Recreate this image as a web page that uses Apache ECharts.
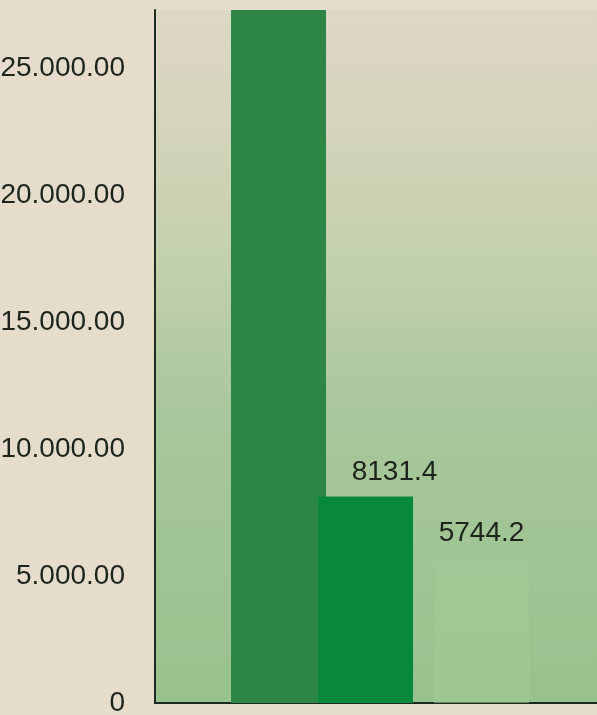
<!DOCTYPE html>
<html>
<head>
<meta charset="utf-8">
<script src="https://cdn.jsdelivr.net/npm/echarts@6/dist/echarts.min.js"></script>
<style>
    html, body { margin: 0; padding: 0; background: #e6dccb; }
    #main { width: 597px; height: 715px; }
</style>
</head>
<body>
<div id="main"></div>
<script>
// slots on a hidden category axis, only three of them carry a bar
var categories = ['s0', 's1', 's2', 'barra1', 's4', 's5', 'barra2', 's7', 's8', 's9', 'barra3', 's11', 's12', 's13', 's14'];
var values = [null, null, null, 27300, null, null, 8131.4, null, null, null, 5744.2, null, null, null, null];
var barLabels = [null, null, null, null, null, null, '8131.4', null, null, null, '5744.2', null, null, null, null];
var yTicks = [0, 5000, 10000, 15000, 20000, 25000];

var yMax = 27300; // la barra oscura se sale del grafico
var textColor = '#1c241c';
var font = "'Liberation Sans', Arial, sans-serif";
var barColors = { barra1: '#2e8646', barra2: '#08883a', barra3: 'rgba(164, 202, 152, 0.55)' };

function fmt(v) {
    if (v === 0) return '0';
    var s = Math.round(v).toString().replace(/\B(?=(\d{3})+(?!\d))/g, '.');
    return s + '.00';
}

var seriesData = [];
for (var i = 0; i < categories.length; i++) {
    var item = {
        value: values[i],
        itemStyle: { color: barColors[categories[i]] || '#000' },
        label: { show: !!barLabels[i], formatter: barLabels[i] || '' }
    };
    if (categories[i] == 'barra2') {
        item.label.offset = [29, 0];
    }
    seriesData.push(item);
}

var option = {
    animation: false,
    grid: [
        {
            left: 155, width: 450, top: 10, bottom: 12,
            outerBoundsMode: 'none',
            containLabel: false,
            show: true,
            borderWidth: 0,
            backgroundColor: {
                type: 'linear', x: 0, y: 0, x2: 0, y2: 1,
                colorStops: [
                    { offset: 0, color: '#ddd8c5' },
                    { offset: 0.15, color: '#d6d4bd' },
                    { offset: 0.37, color: '#c2d0ab' },
                    { offset: 0.58, color: '#a9c79c' },
                    { offset: 1, color: '#98c18d' }
                ]
            }
        },
        {
            left: 177, width: 435, top: 10, bottom: 12,
            outerBoundsMode: 'none',
            containLabel: false
        }
    ],
    xAxis: [
        {
            gridIndex: 0, type: 'value', min: 0, max: 1,
            axisLine: { show: true, lineStyle: { color: '#1d2a20', width: 2 } },
            axisTick: { show: false },
            axisLabel: { show: false },
            splitLine: { show: false }
        },
        { gridIndex: 1, type: 'category', data: categories, show: false }
    ],
    yAxis: [
        {
            gridIndex: 0, type: 'value', min: 0, max: yMax, interval: 5000,
            axisLine: { show: true, lineStyle: { color: '#1d2a20', width: 2 } },
            axisTick: { show: false },
            splitLine: { show: false },
            axisLabel: {
                margin: 30,
                showMaxLabel: false,
                color: textColor,
                fontSize: 28,
                fontFamily: font,
                padding: [8, 0, 0, 0],
                formatter: function (v) {
                    return yTicks.indexOf(v) >= 0 ? fmt(v) : '';
                }
            }
        },
        { gridIndex: 1, type: 'value', min: 0, max: yMax, show: false }
    ],
    series: [
        {
            type: 'bar',
            xAxisIndex: 1,
            yAxisIndex: 1,
            barWidth: 95,
            data: seriesData,
            label: {
                position: 'top',
                distance: 10,
                color: textColor,
                fontSize: 28,
                fontFamily: font
            }
        }
    ]
};

var myChart = echarts.init(document.getElementById('main'));
myChart.setOption(option);
</script>
</body>
</html>
